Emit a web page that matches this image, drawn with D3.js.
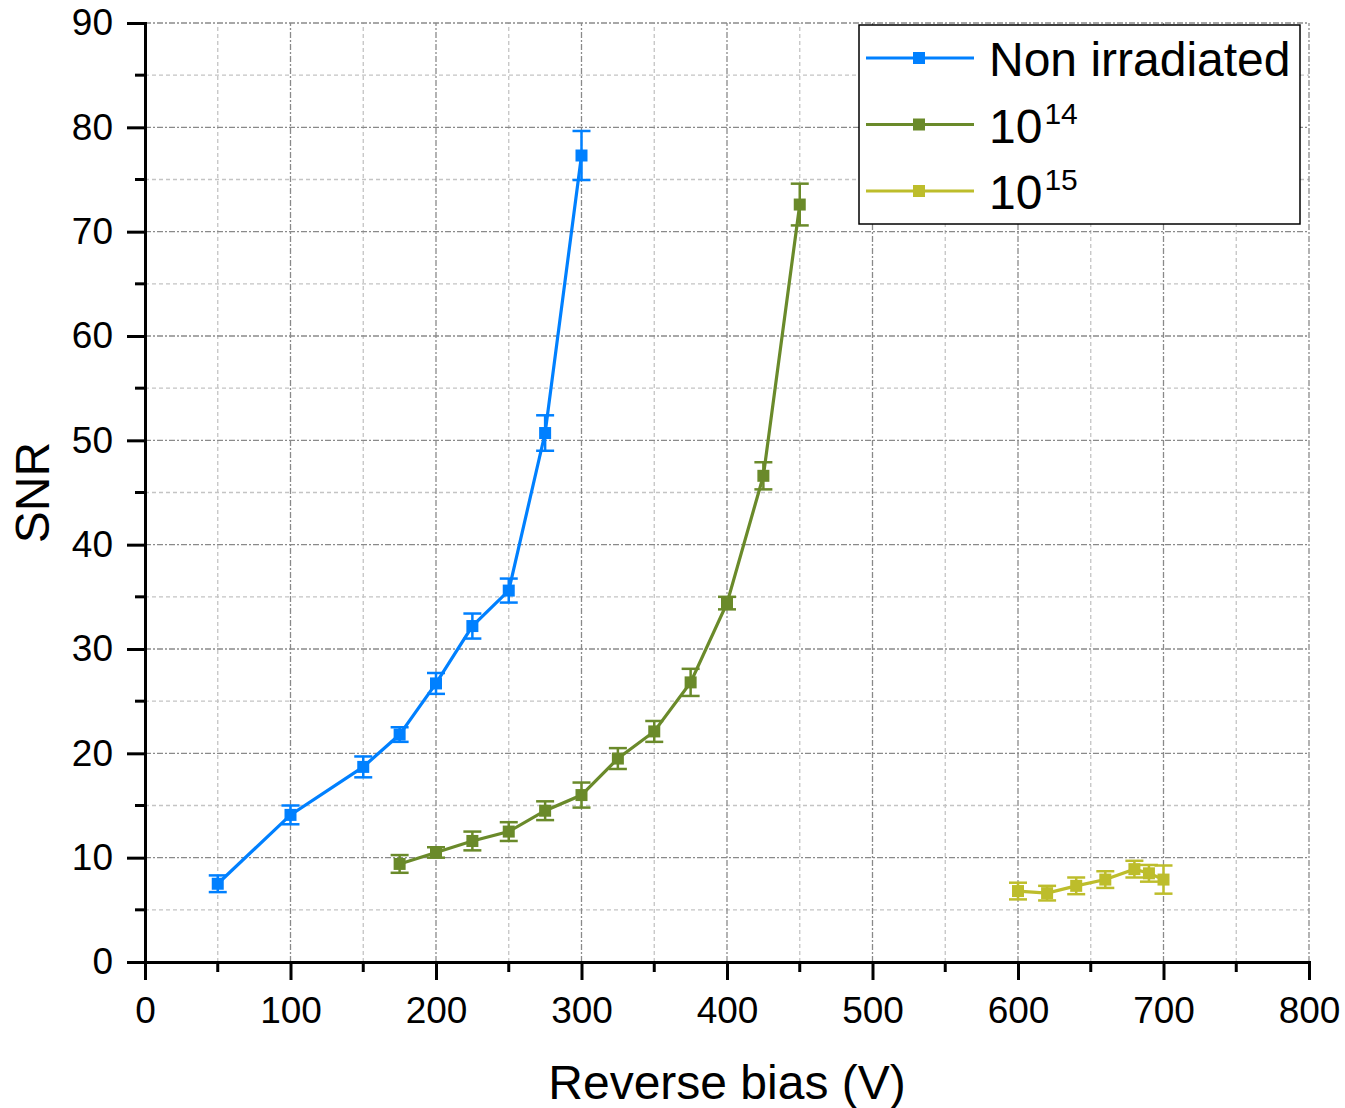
<!DOCTYPE html>
<html lang="en">
<head>
<meta charset="UTF-8">
<title>SNR vs reverse bias</title>
<script src="https://d3js.org/d3.v7.min.js"></script>
<style>
  body { margin: 0; background: #fff; }
  text { font-family: "Liberation Sans", Arial, sans-serif; fill: #000; }
</style>
</head>
<body>
<script>
// data
const biasNon = [50, 100, 150, 175, 200, 225, 250, 275, 300];
const snrNon  = [7.5, 14.1, 18.7, 21.8, 26.7, 32.2, 35.6, 50.7, 77.3];
const errNon  = [0.8, 0.9, 1.0, 0.7, 1.0, 1.2, 1.15, 1.7, 2.35];

const bias14 = [175, 200, 225, 250, 275, 300, 325, 350, 375, 400, 425, 450];
const snr14  = [9.4, 10.5, 11.6, 12.5, 14.5, 16.0, 19.5, 22.1, 26.8, 34.4, 46.6, 72.6];
const err14  = [0.85, 0.5, 0.9, 0.9, 0.9, 1.2, 1.0, 1.0, 1.3, 0.6, 1.3, 2.0];

const bias15 = [600, 620, 640, 660, 680, 690, 700];
const snr15  = [6.8, 6.6, 7.3, 7.9, 8.9, 8.5, 7.9];
const err15  = [0.8, 0.7, 0.8, 0.8, 0.8, 0.8, 1.35];

const seriesNames = ["Non irradiated", "10", "10"];
const seriesSup = ["", "14", "15"];
const colors = ["#0080ff", "#6a8a2a", "#bdbd2b"];

const xTicks = [0, 100, 200, 300, 400, 500, 600, 700, 800];
const yTicks = [0, 10, 20, 30, 40, 50, 60, 70, 80, 90];

const W = 1345, H = 1108;
const margin = {left: 145, right: 36, top: 23, bottom: 146};

const svg = d3.select("body").append("svg")
  .attr("width", W).attr("height", H);

const x = d3.scaleLinear().domain([0, 800]).range([margin.left, W - margin.right]);
const y = d3.scaleLinear().domain([0, 90]).range([H - margin.bottom, margin.top]);

// grid
const grid = svg.append("g");
const minorX = d3.range(50, 800, 100), minorY = d3.range(5, 90, 10);
grid.selectAll(".gxm").data(minorX).join("line")
  .attr("x1", d => x(d)).attr("x2", d => x(d))
  .attr("y1", y(0)).attr("y2", y(90))
  .attr("stroke", "#c4c4c4").attr("stroke-width", 1.3).attr("stroke-dasharray", "4,3");
grid.selectAll(".gym").data(minorY).join("line")
  .attr("y1", d => y(d)).attr("y2", d => y(d))
  .attr("x1", x(0)).attr("x2", x(800))
  .attr("stroke", "#c4c4c4").attr("stroke-width", 1.3).attr("stroke-dasharray", "4,3");
grid.selectAll(".gx").data(xTicks.slice(1)).join("line")
  .attr("x1", d => x(d)).attr("x2", d => x(d))
  .attr("y1", y(0)).attr("y2", y(90))
  .attr("stroke", "#8a8a8a").attr("stroke-width", 1.3).attr("stroke-dasharray", "6,2,2,2");
grid.selectAll(".gy").data(yTicks.slice(1)).join("line")
  .attr("y1", d => y(d)).attr("y2", d => y(d))
  .attr("x1", x(0)).attr("x2", x(800))
  .attr("stroke", "#8a8a8a").attr("stroke-width", 1.3).attr("stroke-dasharray", "6,2,2,2");

// axes
const xAxis = svg.append("g")
  .attr("transform", "translate(0," + y(0) + ")")
  .call(d3.axisBottom(x).tickValues(xTicks).tickSize(18).tickPadding(17));
const yAxis = svg.append("g")
  .attr("transform", "translate(" + x(0) + ",0)")
  .call(d3.axisLeft(y).tickValues(yTicks).tickSize(18).tickPadding(14));
[xAxis, yAxis].forEach(g => {
  g.attr("font-family", null).attr("font-size", null);
  g.select(".domain").attr("stroke-width", 3).attr("stroke", "#000");
  g.selectAll(".tick line").attr("stroke-width", 3).attr("stroke", "#000");
  g.selectAll(".tick text").style("font-size", "37px");
});
// minor ticks
svg.append("g").selectAll("line").data(minorX).join("line")
  .attr("x1", d => x(d)).attr("x2", d => x(d))
  .attr("y1", y(0)).attr("y2", y(0) + 10)
  .attr("stroke", "#000").attr("stroke-width", 3);
svg.append("g").selectAll("line").data(minorY).join("line")
  .attr("y1", d => y(d)).attr("y2", d => y(d))
  .attr("x1", x(0)).attr("x2", x(0) - 10)
  .attr("stroke", "#000").attr("stroke-width", 3);

// axis titles
svg.append("text").attr("x", 727).attr("y", 1099)
  .attr("text-anchor", "middle").style("font-size", "48px").text("Reverse bias (V)");
svg.append("text").attr("transform", "translate(49," + y(45) + ") rotate(-90)")
  .attr("text-anchor", "middle").style("font-size", "48px").text("SNR");

// series
const series = [
  {xs: biasNon, ys: snrNon, es: errNon},
  {xs: bias14, ys: snr14, es: err14},
  {xs: bias15, ys: snr15, es: err15}
];
const line = d3.line().x(d => x(d[0])).y(d => y(d[1]));
series.forEach((s, i) => {
  const pts = s.xs.map((v, j) => [v, s.ys[j], s.es[j]]);
  const g = svg.append("g");
  g.append("path").datum(pts).attr("d", line)
    .attr("fill", "none").attr("stroke", colors[i]).attr("stroke-width", 3.2);
  const eb = g.selectAll(".eb").data(pts).join("g").attr("stroke", colors[i]).attr("stroke-width", 2.5);
  eb.append("line").attr("x1", d => x(d[0])).attr("x2", d => x(d[0]))
    .attr("y1", d => y(d[1] - d[2])).attr("y2", d => y(d[1] + d[2]));
  eb.append("line").attr("x1", d => x(d[0]) - 9).attr("x2", d => x(d[0]) + 9)
    .attr("y1", d => y(d[1] - d[2])).attr("y2", d => y(d[1] - d[2]));
  eb.append("line").attr("x1", d => x(d[0]) - 9).attr("x2", d => x(d[0]) + 9)
    .attr("y1", d => y(d[1] + d[2])).attr("y2", d => y(d[1] + d[2]));
  g.selectAll("rect").data(pts).join("rect")
    .attr("x", d => x(d[0]) - 6).attr("y", d => y(d[1]) - 6)
    .attr("width", 12).attr("height", 12).attr("fill", colors[i]);
});

// legend
const lg = svg.append("g").attr("transform", "translate(859,25)");
lg.append("rect").attr("width", 441).attr("height", 199)
  .attr("fill", "#fff").attr("stroke", "#000").attr("stroke-width", 1.5);
seriesNames.forEach((name, i) => {
  const cy = 33 + i * 66.5;
  lg.append("line").attr("x1", 7).attr("x2", 115).attr("y1", cy).attr("y2", cy)
    .attr("stroke", colors[i]).attr("stroke-width", 3.2);
  lg.append("rect").attr("x", 54).attr("y", cy - 6).attr("width", 12).attr("height", 12)
    .attr("fill", colors[i]);
  const t = lg.append("text").attr("x", 130).attr("y", cy + 18).style("font-size", "48px").text(name);
  if (seriesSup[i]) {
    t.append("tspan").attr("dy", -19).attr("dx", 2).style("font-size", "30px").text(seriesSup[i]);
  }
});
</script>
</body>
</html>
